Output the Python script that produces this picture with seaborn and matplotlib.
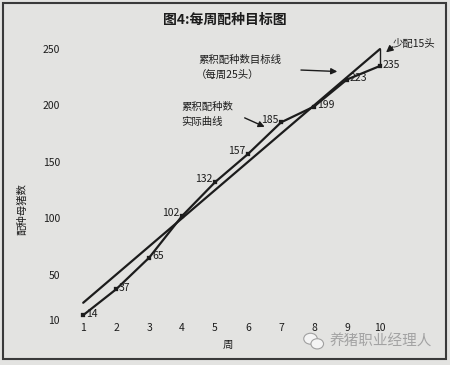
import pandas as pd
import seaborn as sns
import matplotlib.pyplot as plt
from matplotlib.patches import Rectangle, Ellipse

# data
weeks = [1, 2, 3, 4, 5, 6, 7, 8, 9, 10]
actual = [14, 37, 65, 102, 132, 157, 185, 199, 223, 235]
target = [25, 50, 75, 100, 125, 150, 175, 200, 225, 250]
y_ticks = [10, 50, 100, 150, 200, 250]
label_side = ['r', 'r', 'r', 'l', 'l', 'l', 'l', 'r', 'r', 'r']

BG = '#e3e3e1'
INK = '#1c1c1c'

sns.set_theme(style='white')
plt.rcParams['font.family'] = ['Noto Sans CJK SC', 'DejaVu Sans']

df = pd.DataFrame({'week': weeks * 2,
                   'value': actual + target,
                   'series': ['actual'] * 10 + ['target'] * 10})

fig = plt.figure(figsize=(4.5, 3.65), dpi=100, facecolor=BG)
ax = fig.add_axes([0.138, 0.118, 0.795, 0.797])
ax.set_facecolor(BG)

sns.lineplot(data=df, x='week', y='value', units='series', estimator=None,
             color=INK, linewidth=1.6, ax=ax, legend=False)
sns.scatterplot(x=weeks, y=actual, marker='s', s=6, color=INK,
                edgecolor=INK, ax=ax, zorder=3)

# gap bracket at week 10
ax.plot([weeks[-1], weeks[-1]], [actual[-1], target[-1]], color=INK, lw=1)

for w, v, side in zip(weeks, actual, label_side):
    if side == 'r':
        ax.annotate(str(v), (w, v), xytext=(2, 1), textcoords='offset points',
                    ha='left', va='center', fontsize=7.5, color=INK)
    else:
        ax.annotate(str(v), (w, v), xytext=(-2, 2), textcoords='offset points',
                    ha='right', va='center', fontsize=7.5, color=INK)

ax.set_xlim(0.36, 11.21)
ax.set_ylim(8, 266)
ax.set_xticks(weeks)
ax.set_yticks(y_ticks)
ax.tick_params(axis='both', length=0, labelsize=7.5, colors=INK)
ax.tick_params(axis='x', pad=1)
ax.tick_params(axis='y', pad=1.5)
for s in ax.spines.values():
    s.set_visible(False)
ax.set_xlabel('')
ax.set_ylabel('')

# annotations
ax.text(4.48, 240, '累积配种数目标线', fontsize=7.5, color=INK, ha='left', va='center')
ax.text(4.42, 227, '（每周25头）', fontsize=7.5, color=INK, ha='left', va='center')
ax.annotate('', xy=(8.79, 230), xytext=(7.52, 231.5),
            arrowprops=dict(arrowstyle='-|>', color=INK, lw=1, mutation_scale=9))
ax.text(3.97, 199, '累积配种数', fontsize=7.5, color=INK, ha='left', va='center')
ax.text(3.97, 185, '实际曲线', fontsize=7.5, color=INK, ha='left', va='center')
ax.annotate('', xy=(6.58, 180), xytext=(5.82, 190),
            arrowprops=dict(arrowstyle='-|>', color=INK, lw=1, mutation_scale=9))
ax.text(10.4, 255, '少配15头', fontsize=7.5, color=INK, ha='left', va='center',
        clip_on=False)
ax.annotate('', xy=(10.12, 245.5), xytext=(10.45, 253.5),
            arrowprops=dict(arrowstyle='-|>', color=INK, lw=1, mutation_scale=10),
            annotation_clip=False)

fig.text(0.5, 0.945, '图4:每周配种目标图', ha='center', va='center',
         fontsize=10, fontweight='bold', color=INK)
fig.text(0.049, 0.428, '配种母猪数', rotation=90, ha='center', va='center',
         fontsize=7.5, color=INK)
fig.text(0.507, 0.055, '周', ha='center', va='center', fontsize=7.5, color=INK)

# watermark
fig.text(0.733, 0.063, '养猪职业经理人', ha='left', va='center', fontsize=10.5,
         color='#a3a3a3')
fig.patches.append(Ellipse((0.69, 0.072), 0.03, 0.03, transform=fig.transFigure,
                           facecolor='#f4f4f4', edgecolor='#a0a0a0', lw=0.8))
fig.patches.append(Ellipse((0.705, 0.058), 0.028, 0.028, transform=fig.transFigure,
                           facecolor='#f4f4f4', edgecolor='#a0a0a0', lw=0.8))

fig.patches.append(Rectangle((0.0067, 0.0164), 0.984, 0.975, transform=fig.transFigure,
                             fill=False, edgecolor='#3a3a3a', lw=1.5))

fig.savefig('out.png', dpi=100, facecolor=BG)
